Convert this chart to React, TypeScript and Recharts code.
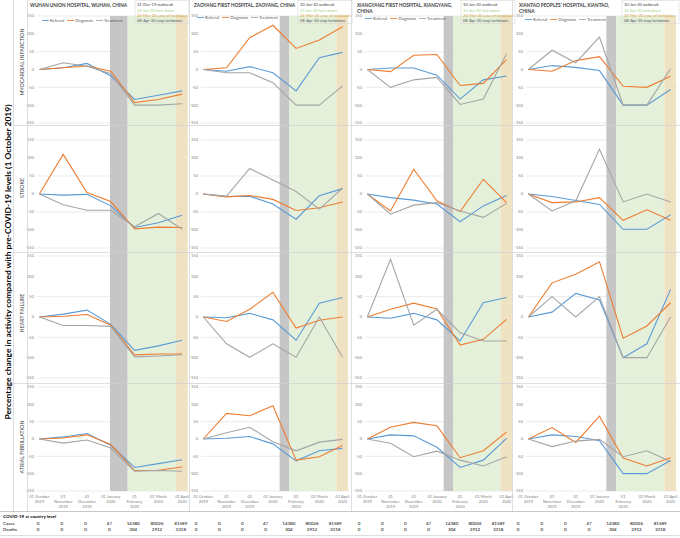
import React from "react";
import { LineChart, Line, XAxis, YAxis, CartesianGrid, ReferenceArea, Legend } from "recharts";

const FONT = "Lato, 'Liberation Sans', sans-serif";

// categories
const months = ["01 October 2019", "01 November 2019", "01 December 2019", "01 January 2020", "01 February 2020", "01 March 2020", "01 April 2020"];
const monthDays = [31, 30, 31, 31, 29, 31, 30];
const topTickLines = [["01 October", "2019"], ["01", "November", "2019"], ["01", "December", "2019"], ["01 January", "2020"], ["01 February", "2020"], ["01 March", "2020"], ["01 April", "2020"]];
const bottomTickLines = [["01 October", "2019"], ["01", "November", "2019"], ["01", "December", "2019"], ["01 January", "2020"], ["01", "February", "2020"], ["01 March", "2020"], ["01 April", "2020"]];
const yTicks = [-150, -100, -50, 0, 50, 100, 150];

const seriesNames = ["Referral", "Diagnosis", "Treatment"];
const seriesKeys = ["referral", "diagnosis", "treatment"];
const seriesColors = ["#5b9bd5", "#ed7d31", "#a5a5a5"];

const hospitalTitles = [
  ["WUHAN UNION HOSPITAL, WUHAN, CHINA"],
  ["ZAOYANG FIRST HOSPITAL, ZAOYANG, CHINA"],
  ["XIANGYANG FIRST HOSPITAL, XIANGYANG,", "CHINA"],
  ["XIANTAO PEOPLES' HOSPITAL, XIANTAO,", "CHINA"],
];
const conditions = ["MYOCARDIAL INFARCTION", "STROKE", "HEART FAILURE", "ATRIAL FIBRILLATION"];

// events: [month index from Oct 2019, day]
const wuhanEvents = ["31-Dec-19 outbreak", "23-Jan-20 lock down", "24-Mar-20 ease of lockdown", "08-Apr-20 stop lockdown"];
const wuhanEventDates = [[2, 31], [3, 23], [5, 24], [6, 8]];
const otherEvents = ["10-Jan-20 outbreak", "23-Jan-20 lock down", "24-Mar-20 ease of lockdown", "08-Apr-20 stop lockdown"];
const otherEventDates = [[3, 10], [3, 23], [5, 24], [6, 8]];
const eventColors = ["#404040", "#a9d18e", "#d4a040", "#595959"];

// COVID-19 at country level
const cases = [0, 0, 0, 47, 14380, 80026, 81589];
const deaths = [0, 0, 0, 0, 304, 2912, 3318];

// % change vs 1 Oct 2019: [referral, diagnosis, treatment]
const miWuhan = [[0, 5, 17, -18, -84, -72, -60], [0, 5, 10, -5, -93, -84, -69], [0, 19, 9, -12, -100, -100, -96]];
const miZaoyang = [[0, -5, 8, -9, -60, 33, 48], [0, 5, 89, 124, 59, 83, 120], [0, -9, -9, -37, -100, -100, -46]];
const miXiangyang = [[0, 4, 4, -16, -83, -29, -18], [0, -6, 40, 42, -45, -39, 28], [0, -50, -29, -22, -98, -83, 44]];
const miXiantao = [[0, 11, 6, -3, -100, -100, -56], [0, -5, 25, 36, -47, -50, -19], [0, 54, 19, 91, -100, -100, 2]];

const strokeWuhan = [[0, -3, -1, -33, -93, -80, -59], [0, 110, 4, -21, -97, -92, -93], [0, -30, -45, -45, -91, -54, -98]];
const strokeZaoyang = [[0, -7, -6, -28, -70, -5, 15], [0, -8, -4, -15, -46, -38, -22], [0, -6, 71, 39, 7, -42, 16]];
const strokeXiangyang = [[0, -10, -17, -28, -77, -33, -4], [0, -47, 69, -19, -49, 41, -24], [0, -56, -31, -24, -47, -65, -26]];
const strokeXiantao = [[0, -7, -18, -29, -98, -98, -58], [0, -24, -22, -10, -73, -44, -73], [0, -47, -19, 124, -22, 0, -22]];

const hfWuhan = [[0, 7, 17, -18, -82, -71, -57], [0, 2, 6, -20, -93, -91, -91], [0, -21, -21, -23, -98, -96, -93]];
const hfZaoyang = [[0, -2, 9, -7, -57, 34, 48], [0, -11, 19, 61, -27, -8, 0], [0, -66, -99, -66, -99, 0, -99]];
const hfXiangyang = [[0, -3, 9, -7, -59, 35, 48], [0, 19, 34, 20, -69, -55, -6], [0, 142, -20, 19, -39, -59, -59]];
const hfXiantao = [[0, 12, 58, 42, -100, -66, 68], [0, 84, 105, 136, -52, -22, 35], [0, 50, 0, 50, -100, -100, 0]];

const afWuhan = [[0, 6, 16, -18, -82, -71, -60], [0, 3, 12, -16, -91, -90, -81], [0, -12, -3, -26, -93, -91, -93]];
const afZaoyang = [[0, 2, 7, -14, -63, -34, -27], [0, 74, 67, 96, -61, -51, -19], [0, 18, 34, -8, -34, -9, -1]];
const afXiangyang = [[0, 12, 9, -24, -82, -61, 2], [0, 34, 48, 38, -54, -34, 20], [0, -12, -51, -35, -61, -78, -51]];
const afXiantao = [[0, 12, 7, -5, -100, -100, -62], [0, 33, -10, 66, -55, -78, -54], [0, -22, -6, -1, -51, -34, -65]];

const grid = [
  [miWuhan, miZaoyang, miXiangyang, miXiantao],
  [strokeWuhan, strokeZaoyang, strokeXiangyang, strokeXiantao],
  [hfWuhan, hfZaoyang, hfXiangyang, hfXiantao],
  [afWuhan, afZaoyang, afXiangyang, afXiantao],
];

// layout
const X_MIN = -0.1;
const X_MAX = 6.3;
const Y_W = 12;
const colOct = [39, 203, 367, 528];
const colStep = [23.8, 23.2, 23.2, 23.7];
const rowCell = [[0, 126], [126, 253], [253, 384], [384, 512]];
const rowPlot = [[16, 123], [140, 248], [256, 378], [387, 491]];
const legendX = [42, 197, 365, 525];
const legendY = [17, 14.3, 14.5, 15.5];
const titleX = [30, 194, 357, 519];
const titleW = [97, 101, 95, 90];
const boxX = [135, 298, 461, 622];
const boxW = [54, 54, 54, 57];
const tableShift = [-1, -7, -8, -10];
const rowLabelY = [62, 188, 313, 447];

const MonthTick = (props: any) => {
  const { x, y, payload, shift, lines } = props;
  const parts: string[] = lines[payload.value] || [];
  return (
    <text x={x} y={y + shift} textAnchor="middle" fontSize={4} fill="#7f7f7f" fontFamily={FONT}>
      {parts.map((p, k) => (
        <tspan key={k} x={x} dy={k === 0 ? 0 : 5}>{p}</tspan>
      ))}
    </text>
  );
};

function Panel({ r, c }: { r: number; c: number }) {
  const series = grid[r][c];
  const data = months.map((m, i) => ({
    i,
    month: m,
    referral: series[0][i],
    diagnosis: series[1][i],
    treatment: series[2][i],
  }));
  const step = colStep[c];
  const plotLeft = colOct[c] + X_MIN * step;
  const plotW = (X_MAX - X_MIN) * step;
  const [cellTop, cellBot] = rowCell[r];
  const [plotTop, plotBot] = rowPlot[r];
  const plotH = plotBot - plotTop;
  const axisH = r === 3 ? 20 : 0;
  const left = plotLeft - Y_W;
  const width = Y_W + plotW + 1;
  const height = cellBot - cellTop;
  const unit = 300 / plotH;
  const bandTop = r === 0 ? 150 : 150 + (plotTop - cellTop) * unit;
  const bandBot = r === 3 ? -150 : -150 - (cellBot - plotBot) * unit;
  const dates = c === 0 ? wuhanEventDates : otherEventDates;
  const pos = dates.map(([m, d]) => m + (d - 1) / monthDays[m]);
  const bands = [
    { x1: pos[0], x2: pos[1], fill: "#c6c6c6" },
    { x1: pos[1], x2: pos[2], fill: "#e4f0da" },
    { x1: pos[2], x2: pos[3], fill: "#efe2c2" },
  ];

  return (
    <div style={{ position: "absolute", left, top: cellTop }}>
      <LineChart
        width={width}
        height={height}
        data={data}
        margin={{ top: plotTop - cellTop, right: 1, bottom: cellBot - plotBot - axisH, left: 0 }}
      >
        <CartesianGrid vertical={false} stroke="#dedede" strokeWidth={0.6} />
        {bands.map((b, k) => (
          <ReferenceArea
            key={k}
            x1={b.x1}
            x2={b.x2}
            y1={bandBot}
            y2={bandTop}
            fill={b.fill}
            fillOpacity={1}
            stroke="none"
            ifOverflow="visible"
          />
        ))}
        <XAxis
          type="number"
          dataKey="i"
          domain={[X_MIN, X_MAX]}
          ticks={[0, 1, 2, 3, 4, 5, 6]}
          interval={0}
          hide={r === 1 || r === 2}
          height={axisH}
          axisLine={false}
          tickLine={false}
          tickSize={0}
          tickMargin={0}
          tick={(p: any) => (
            <MonthTick
              {...p}
              shift={r === 0 ? -plotH / 2 + 7.6 : 7.3}
              lines={r === 0 ? topTickLines : bottomTickLines}
            />
          )}
        />
        <YAxis
          type="number"
          domain={[-150, 150]}
          ticks={yTicks}
          width={Y_W}
          axisLine={false}
          tickLine={false}
          tickSize={0}
          tickMargin={3}
          tick={{ fontSize: 4, fill: "#808080", fontFamily: FONT }}
        />
        {seriesKeys.map((k, s) => (
          <Line
            key={k}
            type="linear"
            dataKey={k}
            name={seriesNames[s]}
            stroke={seriesColors[s]}
            strokeWidth={1.1}
            dot={false}
            activeDot={false}
            isAnimationActive={false}
          />
        ))}
        {r === 0 && (
          <Legend
            verticalAlign="middle"
            align="center"
            layout="horizontal"
            iconType="plainline"
            iconSize={7}
            itemSorter={(item: any) => seriesNames.indexOf(item.value)}
            wrapperStyle={{
              top: legendY[c],
              left: legendX[c] - left,
              width: "auto",
              whiteSpace: "nowrap",
              fontSize: 4.2,
              lineHeight: "6px",
              fontFamily: FONT,
            }}
            formatter={(v: string) => <span style={{ color: "#595959" }}>{v}</span>}
          />
        )}
      </LineChart>
    </div>
  );
}

function Overlay() {
  const lineColor = "#d0d0d0";
  return (
    <svg
      width={680}
      height={538}
      style={{ position: "absolute", left: 0, top: 0, pointerEvents: "none" }}
      fontFamily={FONT}
    >
      {/* separators */}
      <line x1={13.5} y1={0} x2={13.5} y2={511.5} stroke={lineColor} strokeWidth={0.7} />
      <line x1={27.5} y1={0} x2={27.5} y2={511.5} stroke={lineColor} strokeWidth={0.7} />
      {[189.5, 351.5, 512.5].map((x) => (
        <line key={x} x1={x} y1={0} x2={x} y2={511.5} stroke={lineColor} strokeWidth={0.7} />
      ))}
      {[125.5, 252.5, 383.5].map((y) => (
        <line key={y} x1={13.5} y1={y} x2={680} y2={y} stroke={lineColor} strokeWidth={0.7} />
      ))}
      <line x1={0} y1={511.5} x2={680} y2={511.5} stroke="#b0b0b0" strokeWidth={0.7} />
      <line x1={0} y1={535.5} x2={680} y2={535.5} stroke={lineColor} strokeWidth={0.7} />

      {/* outer y title */}
      <text
        transform="translate(10.5,262) rotate(-90)"
        textAnchor="middle"
        fontSize={7}
        fontWeight="bold"
        fill="#000"
        textLength={315}
        lengthAdjust="spacingAndGlyphs"
      >
        Percentage change in activity compared with  pre-COVID-19 levels (1 October 2019)
      </text>

      {/* row labels */}
      {conditions.map((cond, r) => (
        <text
          key={cond}
          transform={`translate(23.5,${rowLabelY[r]}) rotate(-90)`}
          textAnchor="middle"
          fontSize={5.3}
          fill="#404040"
        >
          {cond}
        </text>
      ))}

      {/* hospital titles */}
      {hospitalTitles.map((lines, c) =>
        lines.map((t, k) => (
          <text
            key={`${c}-${k}`}
            x={titleX[c]}
            y={7 + k * 5.6}
            fontSize={4.9}
            fontWeight="bold"
            fill="#404040"
            textLength={k === 0 ? titleW[c] : undefined}
            lengthAdjust="spacingAndGlyphs"
          >
            {t}
          </text>
        ))
      )}

      {/* event boxes */}
      {boxX.map((bx, c) => {
        const labels = c === 0 ? wuhanEvents : otherEvents;
        return (
          <g key={bx}>
            <rect x={bx} y={0.5} width={boxW[c]} height={23} fill="none" stroke="#d9d9d9" strokeWidth={0.6} />
            {labels.map((t, k) => (
              <text key={t} x={bx + 2} y={6.3 + k * 5.3} fontSize={4} fill={eventColors[k]}>
                {t}
              </text>
            ))}
          </g>
        );
      })}

      {/* table */}
      <text x={3} y={518} fontSize={4.5} fontWeight="bold" fill="#000">COVID-19 at country level</text>
      <text x={3} y={524.6} fontSize={4.5} fill="#000">Cases</text>
      <text x={3} y={531} fontSize={4.5} fill="#000">Deaths</text>
      {colOct.map((ox, c) =>
        months.map((m, i) => {
          const x = ox + i * colStep[c] + tableShift[c];
          return (
            <g key={`${c}-${m}`}>
              <text x={x} y={524.6} fontSize={4.5} textAnchor="middle" fill="#000">{cases[i]}</text>
              <text x={x} y={531} fontSize={4.5} textAnchor="middle" fill="#000">{deaths[i]}</text>
            </g>
          );
        })
      )}
    </svg>
  );
}

export default function App() {
  const panels = [];
  for (let r = 0; r < 4; r++) {
    for (let c = 0; c < 4; c++) {
      panels.push(<Panel key={`${r}-${c}`} r={r} c={c} />);
    }
  }
  return (
    <div
      style={{
        position: "absolute",
        left: 0,
        top: 0,
        width: 680,
        height: 538,
        background: "#fff",
        overflow: "hidden",
        fontFamily: FONT,
      }}
    >
      <style>{`
        .recharts-legend-item { margin-right: 3px !important; }
        .recharts-legend-item .recharts-surface { margin-right: 1px !important; }
      `}</style>
      {panels}
      <Overlay />
    </div>
  );
}
